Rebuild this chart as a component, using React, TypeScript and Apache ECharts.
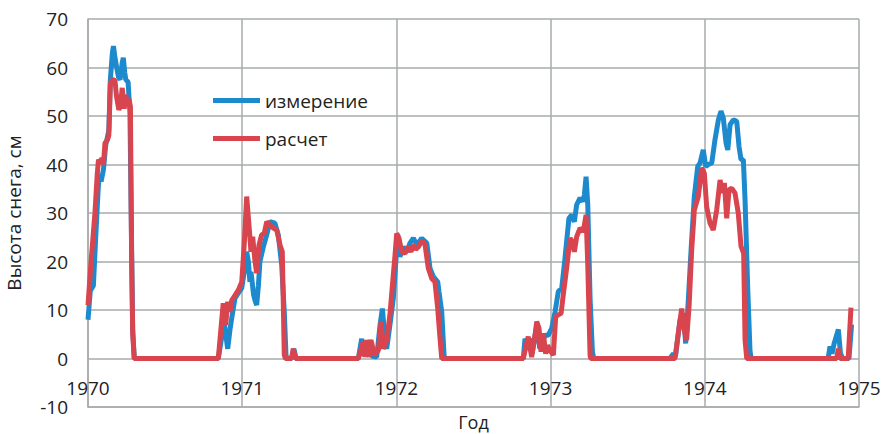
import React, { useEffect, useRef } from "react";
import * as echarts from "echarts";

// Measured snow depth (cm) — "измерение"
const measuredYears = [
  1970.0, 1970.015, 1970.035, 1970.05, 1970.067, 1970.075, 1970.085, 1970.1, 1970.115, 1970.125,
  1970.135, 1970.145, 1970.158, 1970.165, 1970.175, 1970.186, 1970.198, 1970.208, 1970.222, 1970.229,
  1970.238, 1970.245, 1970.26, 1970.272, 1970.28, 1970.29, 1970.3, 1970.845,
  1970.865, 1970.877, 1970.893, 1970.906, 1970.921, 1970.932, 1970.953, 1970.975, 1970.997, 1971.014,
  1971.029, 1971.04, 1971.05, 1971.057, 1971.074, 1971.083, 1971.094, 1971.105, 1971.115, 1971.137,
  1971.159, 1971.18, 1971.212, 1971.234, 1971.256, 1971.273, 1971.284, 1971.29, 1971.32, 1971.335,
  1971.35, 1971.753,
  1971.775, 1971.785, 1971.796, 1971.815, 1971.829, 1971.84, 1971.872, 1971.894, 1971.909, 1971.922,
  1971.937, 1971.958, 1971.98, 1971.995, 1972.008, 1972.023, 1972.045, 1972.067, 1972.088, 1972.11,
  1972.132, 1972.164, 1972.197, 1972.218, 1972.239, 1972.268, 1972.276, 1972.294, 1972.309, 1972.315,
  1972.823,
  1972.834, 1972.845, 1972.866, 1972.88, 1972.91, 1972.93, 1972.964, 1972.985, 1973.007, 1973.029,
  1973.05, 1973.072, 1973.089, 1973.104, 1973.119, 1973.137, 1973.154, 1973.169, 1973.191, 1973.208,
  1973.219, 1973.23, 1973.241, 1973.256, 1973.271, 1973.28, 1973.774,
  1973.796, 1973.81, 1973.839, 1973.861, 1973.876, 1973.893, 1973.911, 1973.932, 1973.954, 1973.969,
  1973.99, 1974.006, 1974.023, 1974.045, 1974.066, 1974.088, 1974.105, 1974.12, 1974.138, 1974.149,
  1974.164, 1974.185, 1974.207, 1974.222, 1974.235, 1974.25, 1974.261, 1974.278, 1974.293, 1974.3,
  1974.8, 1974.812, 1974.825, 1974.838, 1974.866, 1974.88, 1974.895, 1974.935, 1974.952,
];
const measuredDepth = [
  8, 14, 15, 25, 35.5, 38, 36.5, 38.9, 44, 45.5,
  47, 57.5, 63, 64.4, 62, 60, 58, 57.5, 61, 62,
  59, 57.5, 57, 50.7, 30, 6, 0, 0,
  4, 9, 5, 2, 6, 8.3, 12.4, 13.5, 14.5, 18,
  22, 20, 15.8, 17.9, 13.1, 12, 11, 15, 20, 23,
  25.5, 28.2, 27.9, 25.5, 19.3, 9.6, 0.7, 0, 0, 2,
  0, 0,
  4.1, 0.5, 3.4, 2, 3.8, 0.5, 0.3, 6.9, 10.3, 5.5,
  2, 6.9, 12.4, 19.3, 25.5, 21, 23, 22, 23.8, 24.8,
  23.4, 24.8, 23.8, 18.6, 16.9, 15.8, 13.8, 9.6, 0.7, 0,
  0,
  4.1, 3, 4.1, 1, 6.9, 2, 4.8, 4.8, 6.2, 9.6,
  13.8, 14.5, 19.3, 24.1, 28.9, 29.6, 28.2, 31.7, 33.1, 32.4,
  33.7, 37.5, 31.7, 12.4, 1.4, 0, 0,
  1, 0.5, 7.9, 9.3, 3.1, 12, 22.4, 33.4, 39.6, 40.3,
  43, 39.6, 40, 40.3, 45.1, 49.2, 51, 49.6, 44.4, 43,
  48.2, 49.2, 48.9, 43.7, 41, 41, 32.7, 14.8, 1.7, 0,
  0, 2.5, 1, 3, 6, 1, 0, 0, 7,
];

// Calculated snow depth (cm) — "расчет"
const calculatedYears = [
  1970.0, 1970.02, 1970.045, 1970.06, 1970.068, 1970.08, 1970.09, 1970.1, 1970.11, 1970.125,
  1970.135, 1970.145, 1970.16, 1970.175, 1970.185, 1970.2, 1970.21, 1970.222, 1970.235, 1970.245,
  1970.255, 1970.265, 1970.275, 1970.283, 1970.29, 1970.3, 1970.845,
  1970.877, 1970.893, 1970.906, 1970.921, 1970.932, 1970.953, 1970.975, 1970.997, 1971.014, 1971.029,
  1971.044, 1971.057, 1971.068, 1971.083, 1971.094, 1971.109, 1971.126, 1971.143, 1971.159, 1971.18,
  1971.202, 1971.224, 1971.245, 1971.26, 1971.273, 1971.28, 1971.32, 1971.331, 1971.345, 1971.753,
  1971.785, 1971.796, 1971.807, 1971.822, 1971.835, 1971.857, 1971.883, 1971.9, 1971.915, 1971.937,
  1971.958, 1971.976, 1971.991, 1972.002, 1972.017, 1972.034, 1972.056, 1972.077, 1972.095, 1972.11,
  1972.125, 1972.142, 1972.168, 1972.186, 1972.207, 1972.229, 1972.25, 1972.268, 1972.283, 1972.294,
  1972.823,
  1972.855, 1972.877, 1972.9, 1972.91, 1972.925, 1972.938, 1972.953, 1972.968, 1972.981, 1972.996,
  1973.018, 1973.033, 1973.05, 1973.068, 1973.082, 1973.104, 1973.126, 1973.141, 1973.154, 1973.169,
  1973.191, 1973.212, 1973.23, 1973.241, 1973.256, 1973.26, 1973.807,
  1973.828, 1973.85, 1973.867, 1973.882, 1973.898, 1973.915, 1973.932, 1973.958, 1973.98, 1973.997,
  1974.012, 1974.034, 1974.055, 1974.077, 1974.099, 1974.114, 1974.127, 1974.142, 1974.157, 1974.175,
  1974.196, 1974.217, 1974.235, 1974.252, 1974.261, 1974.272, 1974.855, 1974.866, 1974.877, 1974.93,
  1974.948,
];
const calculatedDepth = [
  11, 20, 30, 38, 41, 40.5, 41.3, 40, 44.4, 45,
  46, 56.8, 57.5, 57.3, 54, 51.3, 52, 55.8, 51.5, 54.4,
  52, 53.5, 52, 20, 5, 0, 0,
  11.4, 6.9, 11.7, 9.6, 12, 13, 14.1, 15.8, 24, 33.4,
  27.5, 22, 25.1, 20, 17.6, 23.4, 25.5, 25.8, 28.2, 27.5,
  26.9, 26.5, 23.4, 22, 0.7, 0, 0, 2, 0, 0,
  3.4, 0.3, 3.8, 0.3, 3.8, 0.7, 1.7, 7.6, 2, 3.8,
  9, 15.8, 21.3, 25.8, 24.8, 22, 21.7, 23, 22, 23.4,
  22.5, 23, 24.4, 23.4, 18.6, 16.5, 15.8, 10.3, 4.1, 0,
  0,
  4.5, 0.3, 5, 7.6, 6.2, 1.4, 5.2, 1, 2.7, 1.7,
  0.7, 8.6, 9, 9.3, 13.1, 18.6, 24.8, 24.1, 22, 25.1,
  26.9, 26.2, 29.6, 19.3, 0.7, 0, 0,
  5.2, 10.3, 5.8, 3.8, 10.7, 22.4, 30.6, 33.4, 39.3, 38.2,
  31.3, 27.9, 26.5, 30.6, 36.8, 34.1, 36.2, 28.9, 34.8, 35.1,
  34.1, 30, 23.1, 21.7, 3.8, 0, 0, 2, 0, 0,
  10.5,
];

const seriesNames = ["измерение", "расчет"];
const yTicks = { min: -10, max: 70, step: 10 };
const xTicks = { min: 1970, max: 1975, step: 1 };
const axisTitles = { x: "Год", y: "Высота снега, см" };

const FONT = "'Open Sans', sans-serif";
const GRID = "#a7abab";
const TEXT = "#222";

export default function App() {
  const ref = useRef<HTMLDivElement>(null);

  useEffect(() => {
    if (!ref.current) return;
    const chart = echarts.init(ref.current, undefined, { renderer: "svg" });
    const zip = (xs: number[], ys: number[]) => xs.map((x, i) => [x, ys[i]]);
    chart.setOption({
      animation: false,
      backgroundColor: "#fff",
      textStyle: { fontFamily: FONT },
      grid: {
        left: 88,
        right: 24,
        top: 19,
        bottom: 27,
        containLabel: false,
        outerBoundsMode: "none",
      },
      legend: {
        orient: "vertical",
        left: 208,
        top: 86,
        itemWidth: 47,
        itemHeight: 5,
        itemGap: 19,
        icon: "rect",
        textStyle: { fontFamily: FONT, fontSize: 19, color: TEXT },
        data: seriesNames,
      },
      xAxis: {
        type: "value",
        min: xTicks.min,
        max: xTicks.max,
        interval: xTicks.step,
        name: axisTitles.x,
        nameLocation: "middle",
        nameGap: 5,
        nameTextStyle: {
          fontFamily: FONT,
          fontSize: 18,
          color: TEXT,
          verticalAlign: "top",
          lineHeight: 18,
        },
        axisLine: { onZero: false, lineStyle: { color: GRID, width: 1.5 } },
        axisTick: { show: false },
        axisLabel: {
          fontFamily: FONT,
          fontSize: 19,
          color: TEXT,
          margin: -29,
          formatter: (v: number) => String(v),
        },
        splitLine: { show: true, lineStyle: { color: GRID, width: 1.5 } },
      },
      yAxis: {
        type: "value",
        min: yTicks.min,
        max: yTicks.max,
        interval: yTicks.step,
        name: axisTitles.y,
        nameLocation: "middle",
        nameGap: 65,
        nameTextStyle: { fontFamily: FONT, fontSize: 19, color: TEXT },
        axisLine: { show: true, onZero: false, lineStyle: { color: GRID, width: 1.5 } },
        axisTick: { show: false },
        axisLabel: { fontFamily: FONT, fontSize: 19, color: TEXT, margin: 20 },
        splitLine: { show: true, lineStyle: { color: GRID, width: 1.5 } },
      },
      series: [
        {
          name: seriesNames[0],
          type: "line",
          showSymbol: false,
          symbol: "none",
          color: "#1d8ace",
          lineStyle: { width: 5, color: "#1d8ace" },
          data: zip(measuredYears, measuredDepth),
          z: 2,
        },
        {
          name: seriesNames[1],
          type: "line",
          showSymbol: false,
          symbol: "none",
          color: "#d8454f",
          lineStyle: { width: 5, color: "#d8454f" },
          data: zip(calculatedYears, calculatedDepth),
          z: 3,
        },
      ],
    });
    return () => chart.dispose();
  }, []);

  return <div ref={ref} style={{ width: 883, height: 434, position: "absolute", left: 0, top: 0 }} />;
}
